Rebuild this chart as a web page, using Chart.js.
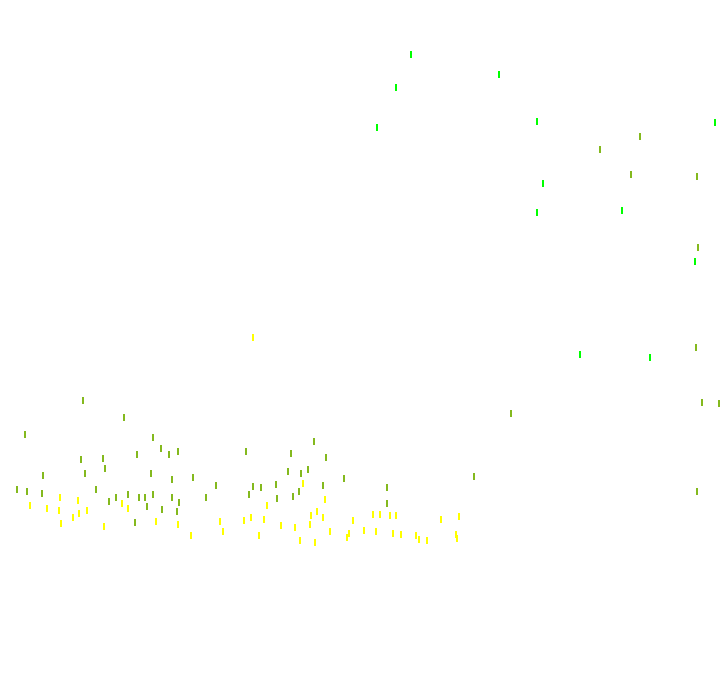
<!DOCTYPE html>
<html>
<head>
<meta charset="utf-8">
<style>
html,body{margin:0;padding:0;background:#fff;}
#wrap{width:720px;height:692px;}
</style>
<script src="https://cdn.jsdelivr.net/npm/chart.js@4"></script>
</head>
<body>
<div id="wrap"><canvas id="c" width="720" height="692"></canvas></div>
<script>
const yellowX = [253,60,78,30,47,59,87,79,73,61,104,122,128,156,178,191,267,303,325,220,244,251,264,281,295,311,317,323,310,223,259,300,315,330,349,347,353,373,380,390,396,364,376,393,401,416,419,427,441,459,456,457];
const yellowY = [355,195,192,187,184,182,182,179,175,169,166,189,184,171,168,157,187,209,193,171,172,175,173,167,165,177,181,175,168,161,157,152,150,161,159,155,172,178,178,177,177,162,161,159,158,157,153,152,173,176,158,154];
const oliveX = [83,124,25,153,161,169,178,137,81,103,43,85,105,151,172,193,17,27,42,96,109,116,128,139,145,153,172,179,147,162,177,135,314,246,291,326,288,301,308,344,216,253,261,276,323,387,206,249,277,293,299,387,511,474,697,640,600,631,697,698,696,702,719];
const oliveY = [292,275,258,255,244,238,241,238,233,234,217,219,224,219,213,215,203,201,199,203,191,195,198,195,195,198,195,190,186,183,181,170,251,241,239,235,221,219,223,214,207,206,205,208,207,205,195,198,194,196,201,189,279,216,201,556,543,518,516,445,345,290,289];
const greenX = [411,499,396,377,537,715,543,537,622,695,580,650];
const greenY = [638,618,605,565,571,570,509,480,482,431,338,335];

function pts(xs, ys){ return xs.map((x,i)=>({x:x, y:ys[i]})); }

function bar(color){
  const cv = document.createElement('canvas');
  cv.width = 2; cv.height = 7;
  const g = cv.getContext('2d');
  g.fillStyle = color;
  g.fillRect(0,0,2,7);
  return cv;
}

function ds(label, xs, ys, color){
  return {label:label, data:pts(xs,ys), pointStyle:bar(color), borderColor:color, backgroundColor:color,
          pointRadius:3, pointHoverRadius:3, borderWidth:0, showLine:false, clip:false};
}

new Chart(document.getElementById('c'), {
  type:'scatter',
  data:{datasets:[
    ds('A', yellowX, yellowY, '#ffff00'),
    ds('B', oliveX, oliveY, '#84b91e'),
    ds('C', greenX, greenY, '#00ff00')
  ]},
  options:{
    responsive:false, animation:false,
    layout:{padding:0, autoPadding:false},
    plugins:{legend:{display:false}, tooltip:{enabled:false}},
    scales:{
      x:{type:'linear', min:0, max:720, display:false},
      y:{type:'linear', min:0, max:692, display:false}
    }
  }
});
</script>
</body>
</html>
